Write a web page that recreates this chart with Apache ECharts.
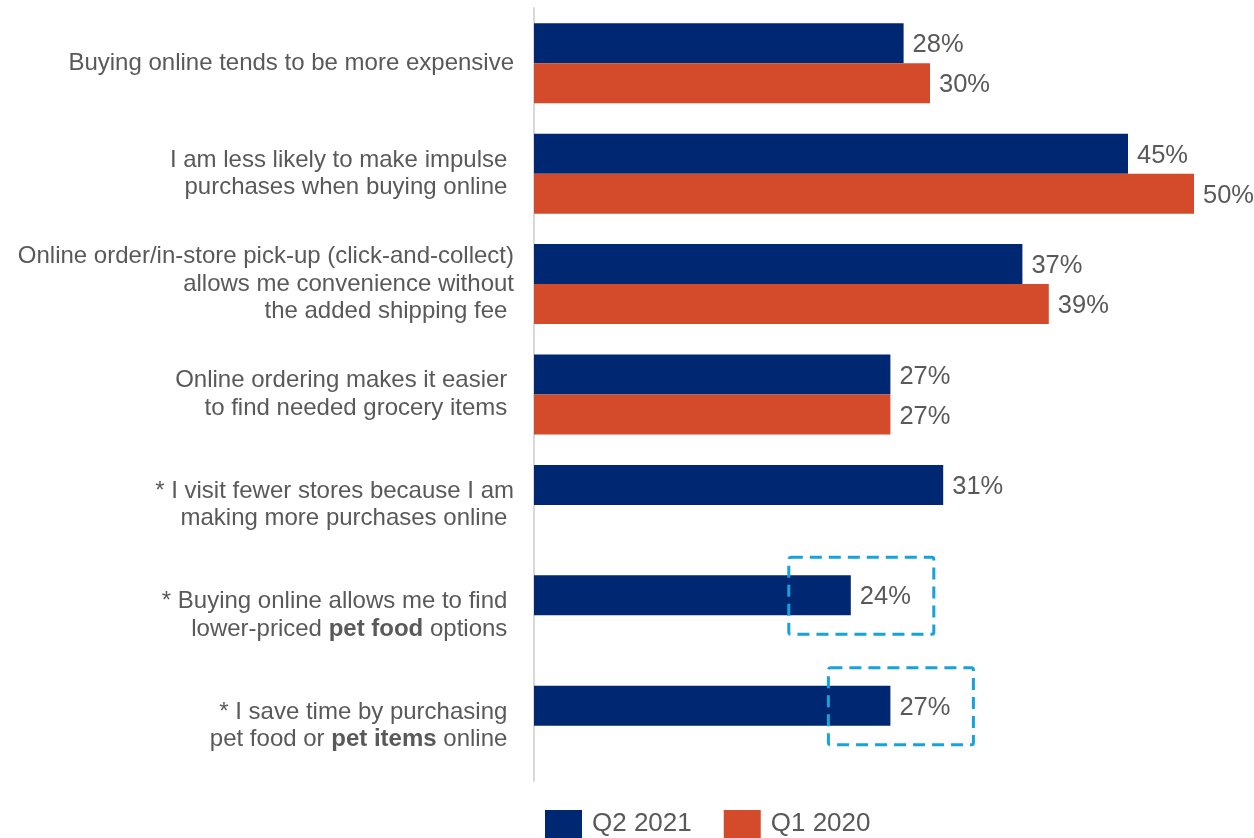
<!DOCTYPE html>
<html>
<head>
<meta charset="utf-8">
<script src="https://cdn.jsdelivr.net/npm/echarts@6/dist/echarts.min.js"></script>
<style>
  html, body { margin: 0; padding: 0; background: #ffffff; }
  #chart { width: 1254px; height: 838px; }
</style>
</head>
<body>
<div id="chart"></div>
<script>
// Survey statements (rich markup {b|...} marks bold words; trailing spaces kept as in the deck)
const categories = [
  'Buying online tends to be more expensive',
  'I am less likely to make impulse \npurchases when buying online ',
  'Online order/in-store pick-up (click-and-collect)\nallows me convenience without\nthe added shipping fee ',
  'Online ordering makes it easier \nto find needed grocery items ',
  '* I visit fewer stores because I am\nmaking more purchases online ',
  '* Buying online allows me to find \nlower-priced {b|pet food} options ',
  '* I save time by purchasing \npet food or {b|pet items} online '
];
const seriesNames = ['Q2 2021', 'Q1 2020'];
const q2_2021 = [28, 45, 37, 27, 31, 24, 27];
const q1_2020 = [30, 50, 39, 27, null, null, null];
// statements whose Q2 2021 value is called out with a dashed box
const highlighted = [5, 6];

const NAVY = '#002872';
const ORANGE = '#D34B2A';
const TEXT = '#595959';
const FONT = '"Liberation Sans", Arial, sans-serif';

const chart = echarts.init(document.getElementById('chart'), null, { renderer: 'canvas' });

const labelStyle = {
  show: true,
  position: 'right',
  distance: 9,
  offset: [0, 2],
  color: TEXT,
  fontFamily: FONT,
  fontSize: 25.5,
  formatter: p => p.value == null ? '' : p.value + '%'
};

chart.setOption({
  backgroundColor: '#ffffff',
  animation: false,
  grid: { left: 534, top: 8, width: 660, height: 773, containLabel: false },
  xAxis: { type: 'value', min: 0, max: 50, show: false },
  yAxis: {
    type: 'category',
    inverse: true,
    data: categories,
    axisTick: { show: false },
    axisLine: { show: true, lineStyle: { color: '#d9d9d9', width: 2 } },
    axisLabel: {
      interval: 0,
      margin: 20,
      align: 'right',
      color: TEXT,
      fontFamily: FONT,
      fontSize: 24,
      lineHeight: 27.5,
      rich: {
        b: { fontWeight: 'bold', color: TEXT, fontFamily: FONT, fontSize: 24, lineHeight: 27.5 }
      }
    }
  },
  legend: {
    left: 545,
    top: 810,
    padding: 0,
    itemWidth: 37,
    itemHeight: 28,
    itemGap: 32,
    icon: 'rect',
    textStyle: { color: TEXT, fontFamily: FONT, fontSize: 26, padding: [0, 0, 0, 5] },
    data: seriesNames
  },
  series: [
    {
      name: seriesNames[0],
      type: 'bar',
      data: q2_2021,
      barWidth: 40,
      barGap: '0%',
      itemStyle: { color: NAVY },
      label: labelStyle
    },
    {
      name: seriesNames[1],
      type: 'bar',
      data: q1_2020,
      barWidth: 40,
      itemStyle: { color: ORANGE },
      label: labelStyle
    }
  ]
});

// Dashed call-out boxes around the highlighted Q2 2021 values
const boxes = highlighted.map(i => {
  const end = chart.convertToPixel({ gridIndex: 0 }, [q2_2021[i], i]);
  const barCenterY = end[1] - 20;
  return {
    type: 'rect',
    shape: { x: end[0] - 62, y: barCenterY - 38, width: 145, height: 77, r: 2 },
    style: { fill: 'none', stroke: '#17A2DC', lineWidth: 3, lineDash: [12, 7] },
    z: 10
  };
});
chart.setOption({ graphic: boxes });
</script>
</body>
</html>
